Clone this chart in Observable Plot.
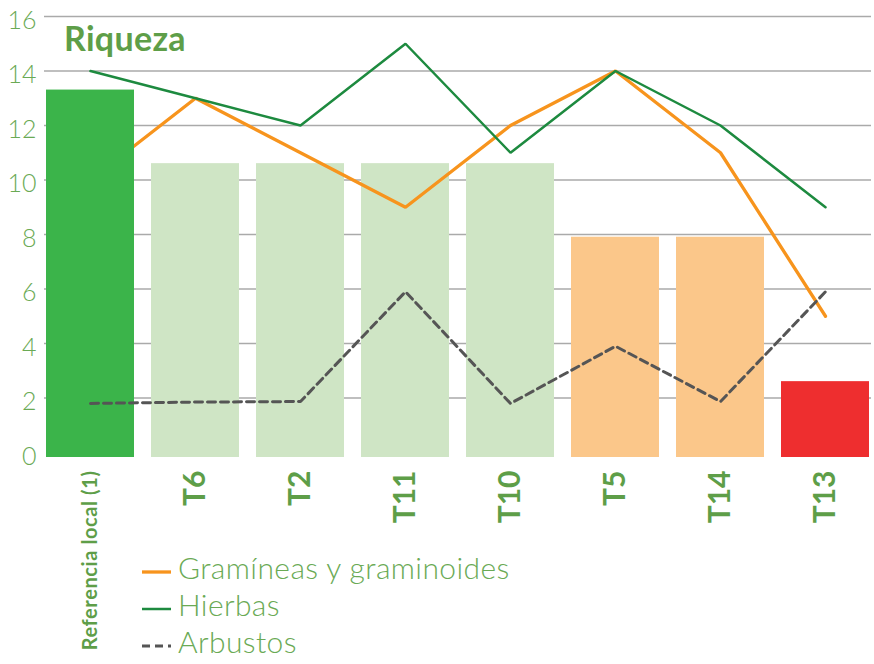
<!DOCTYPE html>
<html>
<head>
<meta charset="utf-8">
<script src="https://cdn.jsdelivr.net/npm/d3@7"></script>
<script src="https://cdn.jsdelivr.net/npm/@observablehq/plot@0.6"></script>
<style>
  body { margin: 0; background: #fff; font-family: Lato, "Open Sans", sans-serif; }
  #wrap { position: relative; width: 874px; height: 664px; }
  #title { position: absolute; left: 64px; top: 22px; font-size: 34px; line-height: 31px; font-weight: 700; color: #5e9e48; letter-spacing: 0.3px; }
  #legend { position: absolute; left: 142px; top: 549px; font-size: 30px; font-weight: 300; color: #6aaa55; letter-spacing: 0.4px; }
  .row { height: 37px; line-height: 37px; display: flex; align-items: flex-start; }
  .row svg { width: 36px; height: 37px; flex: none; }
</style>
</head>
<body>
<div id="wrap">
  <div id="chart"></div>
  <div id="title">Riqueza</div>
  <div id="legend"></div>
</div>
<script>
const categories = ["Referencia local (1)", "T6", "T2", "T11", "T10", "T5", "T14", "T13"];
const status = ["referencia", "bueno", "bueno", "bueno", "bueno", "medio", "medio", "malo"];
const riqueza = [13.3, 10.6, 10.6, 10.6, 10.6, 7.9, 7.9, 2.6];
const gramineas = [10, 13, 11, 9, 12, 14, 11, 5];
const hierbas = [14, 13, 12, 15, 11, 14, 12, 9];
const arbustos = [1.8, 1.85, 1.87, 5.9, 1.8, 3.9, 1.87, 5.9];
const yTicks = [0, 2, 4, 6, 8, 10, 12, 14, 16];
const seriesNames = ["Gramíneas y graminoides", "Hierbas", "Arbustos"];

const statusColors = {domain: ["referencia", "bueno", "medio", "malo"], range: ["#3bb44a", "#cfe5c5", "#fbc78a", "#ee2e2f"]};
const lineStyles = [
  {stroke: "#f7941d", width: 3.3, dash: null},
  {stroke: "#1d8a3f", width: 2.5, dash: null},
  {stroke: "#555555", width: 3, dash: "8,5"}
];

const idx = categories.map((d, i) => i);
const refIdx = idx.filter(i => status[i] === "referencia");
const otherIdx = idx.filter(i => status[i] !== "referencia");
const ref = refIdx.map(i => categories[i]);
const others = otherIdx.map(i => categories[i]);

const bar = (ix) => Plot.barY(ix, {
  x: i => categories[i], y: i => riqueza[i], fill: i => status[i], insetBottom: -5
});
const line = (vals, s) => Plot.line(idx, {
  x: i => categories[i], y: i => vals[i],
  stroke: s.stroke, strokeWidth: s.width, strokeDasharray: s.dash, strokeLinejoin: "miter"
});

const chart = Plot.plot({
  width: 874,
  height: 664,
  marginLeft: 44,
  marginRight: 3,
  marginTop: 16,
  marginBottom: 212,
  style: {color: "#6aaa55", fontFamily: "Lato, 'Open Sans', sans-serif", fontWeight: 300, background: "#fff"},
  x: {domain: categories, paddingInner: 0.166, paddingOuter: 0, axis: null},
  y: {domain: [0, 16], axis: null},
  color: statusColors,
  marks: [
    Plot.ruleY(yTicks.filter(d => d > 0), {stroke: "#aaaaaa", strokeWidth: 1.3}),
    Plot.axisY({ticks: yTicks, tickSize: 0, tickPadding: 8, fontSize: 25, dy: 4, fill: "#6aaa55"}),
    bar(otherIdx),
    line(gramineas, lineStyles[0]),
    bar(refIdx),
    line(hierbas, lineStyles[1]),
    line(arbustos, lineStyles[2]),
    Plot.text(ref, {x: d => d, y: d => 0, text: d => d, rotate: -90, textAnchor: "end", dy: 18,
      fontSize: 20, fontWeight: "bold", fill: "#5e9e48", style: "letter-spacing:0.6px"}),
    Plot.text(others, {x: d => d, y: d => 0, text: d => d, rotate: -90, textAnchor: "end", dy: 18,
      fontSize: 30, fontWeight: "bold", fill: "#5e9e48"})
  ]
});
document.getElementById("chart").appendChild(chart);
chart.querySelectorAll("text").forEach(t => {
  if (t.textContent === ref[0]) t.setAttribute("letter-spacing", "0.6");
});

const legend = document.getElementById("legend");
seriesNames.forEach((name, k) => {
  const s = lineStyles[k];
  const row = document.createElement("div");
  row.className = "row";
  row.innerHTML = `<svg viewBox="0 0 36 37"><line x1="0" x2="29" y1="23" y2="23" stroke="${s.stroke}" stroke-width="${s.width}" ${s.dash ? `stroke-dasharray="${s.dash}"` : ""}/></svg><span>${name}</span>`;
  legend.appendChild(row);
});
</script>
</body>
</html>
